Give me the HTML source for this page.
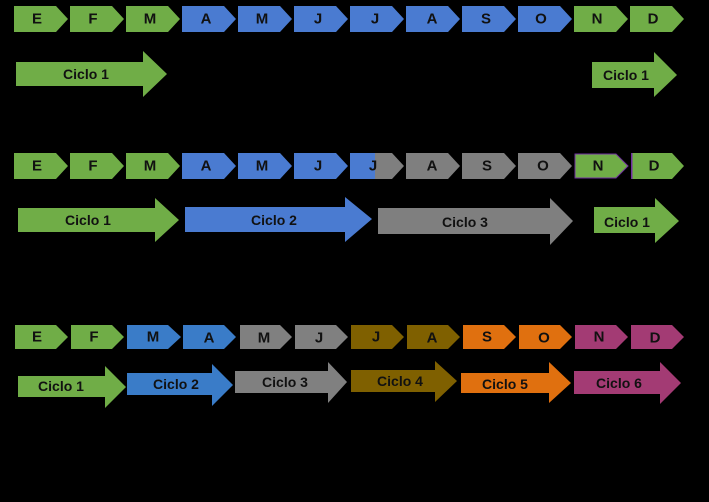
<!DOCTYPE html>
<html><head><meta charset="utf-8"><style>
html,body{margin:0;padding:0;background:#000;}
svg{display:block}
text{font-family:"Liberation Sans",Arial,sans-serif;font-weight:bold;fill:#111;text-anchor:middle;dominant-baseline:central}
.m{font-size:15px}
.c{font-size:14px}
</style></head><body>
<svg width="709" height="502" viewBox="0 0 709 502" xmlns="http://www.w3.org/2000/svg">
<rect width="709" height="502" fill="#000"/>
<!-- Row 1 months y 6-32 -->
<g>
<polygon fill="#70ad47" points="14,6 56,6 68,19 56,32 14,32"/><text class="m" x="37" y="19">E</text>
<polygon fill="#70ad47" points="70,6 112,6 124,19 112,32 70,32"/><text class="m" x="93" y="19">F</text>
<polygon fill="#70ad47" points="126,6 168,6 180,19 168,32 126,32"/><text class="m" x="150" y="19">M</text>
<polygon fill="#4a7bd1" points="182,6 224,6 236,19 224,32 182,32"/><text class="m" x="206" y="19">A</text>
<polygon fill="#4a7bd1" points="238,6 280,6 292,19 280,32 238,32"/><text class="m" x="262" y="19">M</text>
<polygon fill="#4a7bd1" points="294,6 336,6 348,19 336,32 294,32"/><text class="m" x="318" y="19">J</text>
<polygon fill="#4a7bd1" points="350,6 392,6 404,19 392,32 350,32"/><text class="m" x="375" y="19">J</text>
<polygon fill="#4a7bd1" points="406,6 448,6 460,19 448,32 406,32"/><text class="m" x="432" y="19">A</text>
<polygon fill="#4a7bd1" points="462,6 504,6 516,19 504,32 462,32"/><text class="m" x="486" y="19">S</text>
<polygon fill="#4a7bd1" points="518,6 560,6 572,19 560,32 518,32"/><text class="m" x="541" y="19">O</text>
<polygon fill="#70ad47" points="574,6 616,6 628,19 616,32 574,32"/><text class="m" x="597" y="19">N</text>
<polygon fill="#70ad47" points="630,6 672,6 684,19 672,32 630,32"/><text class="m" x="653" y="19">D</text>
</g>
<polygon fill="#70ad47" points="16,62 143,62 143,51 167,74 143,97 143,86 16,86"/><text class="c" x="86" y="74">Ciclo 1</text>
<polygon fill="#70ad47" points="592,62 654,62 654,52 677,75 654,97 654,88 592,88"/><text class="c" x="626" y="75">Ciclo 1</text>

<!-- Row 2 months y 153-178 -->
<g>
<polygon fill="#70ad47" points="14,153 56,153 68,166 56,179 14,179"/><text class="m" x="37" y="166">E</text>
<polygon fill="#70ad47" points="70,153 112,153 124,166 112,179 70,179"/><text class="m" x="93" y="166">F</text>
<polygon fill="#70ad47" points="126,153 168,153 180,166 168,179 126,179"/><text class="m" x="150" y="166">M</text>
<polygon fill="#4a7bd1" points="182,153 224,153 236,166 224,179 182,179"/><text class="m" x="206" y="166">A</text>
<polygon fill="#4a7bd1" points="238,153 280,153 292,166 280,179 238,179"/><text class="m" x="262" y="166">M</text>
<polygon fill="#4a7bd1" points="294,153 336,153 348,166 336,179 294,179"/><text class="m" x="318" y="166">J</text>
<polygon fill="#7f7f7f" points="350,153 392,153 404,166 392,179 350,179"/>
<rect fill="#4a7bd1" x="350" y="153" width="25" height="26"/><text class="m" x="373" y="166">J</text>
<polygon fill="#7f7f7f" points="406,153 448,153 460,166 448,179 406,179"/><text class="m" x="432" y="166">A</text>
<polygon fill="#7f7f7f" points="462,153 504,153 516,166 504,179 462,179"/><text class="m" x="487" y="166">S</text>
<polygon fill="#7f7f7f" points="518,153 560,153 572,166 560,179 518,179"/><text class="m" x="543" y="166">O</text>
<polygon fill="#70ad47" stroke="#7030a0" stroke-width="1" points="575,154 616,154 628,166 616,178 575,178"/><text class="m" x="598" y="166">N</text>
<polygon fill="#70ad47" points="631,153 672,153 684,166 672,179 631,179"/><rect fill="#7030a0" x="631" y="153" width="1.5" height="26"/><text class="m" x="654" y="166">D</text>
</g>
<polygon fill="#70ad47" points="18,208 155,208 155,198 179,220 155,242 155,232 18,232"/><text class="c" x="88" y="220">Ciclo 1</text>
<polygon fill="#4a7bd1" points="185,207 345,207 345,197 372,219 345,242 345,232 185,232"/><text class="c" x="274" y="220">Ciclo 2</text>
<polygon fill="#7f7f7f" points="378,208 550,208 550,198 573,221 550,245 550,234 378,234"/><text class="c" x="465" y="222">Ciclo 3</text>
<polygon fill="#70ad47" points="594,207 655,207 655,198 679,221 655,243 655,233 594,233"/><text class="c" x="627" y="222">Ciclo 1</text>

<!-- Row 3 months y 325-348 -->
<g>
<polygon fill="#70ad47" points="15,325 56,325 68,337 56,349 15,349"/><text class="m" x="37" y="337">E</text>
<polygon fill="#70ad47" points="71,325 112,325 124,337 112,349 71,349"/><text class="m" x="94" y="337">F</text>
<polygon fill="#3a7cc8" points="127,325 168,325 181,337 168,349 127,349"/><text class="m" x="153" y="337">M</text>
<polygon fill="#3a7cc8" points="183,325 224,325 236,337 224,349 183,349"/><text class="m" x="209" y="338">A</text>
<polygon fill="#808080" points="240,325 280,325 292,337 280,349 240,349"/><text class="m" x="264" y="338">M</text>
<polygon fill="#808080" points="295,325 336,325 348,337 336,349 295,349"/><text class="m" x="319" y="338">J</text>
<polygon fill="#7f6000" points="351,325 392,325 404,337 392,349 351,349"/><text class="m" x="376" y="337">J</text>
<polygon fill="#7f6000" points="407,325 448,325 460,337 448,349 407,349"/><text class="m" x="432" y="338">A</text>
<polygon fill="#e0700f" points="463,325 504,325 516,337 504,349 463,349"/><text class="m" x="487" y="337">S</text>
<polygon fill="#e0700f" points="519,325 560,325 572,337 560,349 519,349"/><text class="m" x="544" y="338">O</text>
<polygon fill="#a33b74" points="575,325 616,325 628,337 616,349 575,349"/><text class="m" x="599" y="337">N</text>
<polygon fill="#a33b74" points="631,325 672,325 684,337 672,349 631,349"/><text class="m" x="655" y="338">D</text>
</g>
<polygon fill="#70ad47" points="18,376 105,376 105,366 126,387 105,408 105,397 18,397"/><text class="c" x="61" y="386">Ciclo 1</text>
<polygon fill="#3a7cc8" points="127,373 212,373 212,364 233,385 212,406 212,395 127,395"/><text class="c" x="176" y="384">Ciclo 2</text>
<polygon fill="#808080" points="235,371 328,371 328,362 347,382 328,403 328,393 235,393"/><text class="c" x="285" y="382">Ciclo 3</text>
<polygon fill="#7f6000" points="351,370 435,370 435,361 457,381 435,402 435,392 351,392"/><text class="c" x="400" y="381">Ciclo 4</text>
<polygon fill="#e0700f" points="461,373 549,373 549,362 571,383 549,403 549,393 461,393"/><text class="c" x="505" y="384">Ciclo 5</text>
<polygon fill="#a33b74" points="574,371 660,371 660,362 681,383 660,404 660,394 574,394"/><text class="c" x="619" y="383">Ciclo 6</text>
</svg>
</body></html>
